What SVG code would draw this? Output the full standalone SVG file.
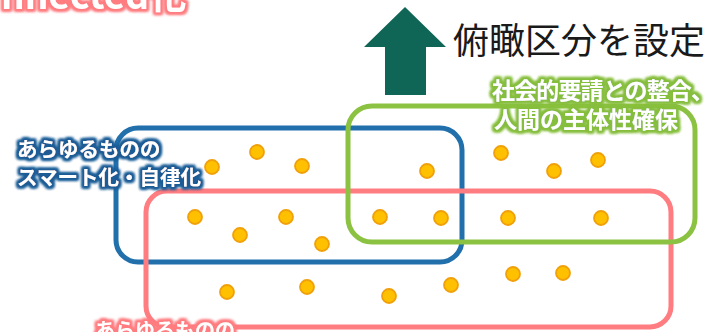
<svg xmlns="http://www.w3.org/2000/svg" width="717" height="332" viewBox="0 0 717 332">
  <style>
    .frame { fill: none; stroke-width: 5; }
    .dot { fill: #FFC000; stroke: #F0A00A; stroke-width: 1.8; }
    .lbl { font-family: "Noto Sans CJK JP", "Liberation Sans", sans-serif; font-weight: 700; fill: #FFFFFF; }
    .title { font-family: "Noto Sans CJK JP", sans-serif; font-weight: 400; fill: #1A1A1A; }
  </style>
  <defs>
    <filter id="glowPink" x="-10%" y="-40%" width="120%" height="180%">
      <feMorphology in="SourceAlpha" operator="dilate" radius="2.3" result="d"/>
      <feGaussianBlur in="d" stdDeviation="1.8" result="b"/>
      <feFlood flood-color="#FF7C80"/>
      <feComposite in2="b" operator="in" result="g"/>
      <feMerge><feMergeNode in="g"/><feMergeNode in="g"/><feMergeNode in="g"/><feMergeNode in="SourceGraphic"/></feMerge>
    </filter>
    <filter id="glowBlue" x="-10%" y="-40%" width="120%" height="180%">
      <feMorphology in="SourceAlpha" operator="dilate" radius="2" result="d"/>
      <feGaussianBlur in="d" stdDeviation="1.6" result="b"/>
      <feFlood flood-color="#1F5C96"/>
      <feComposite in2="b" operator="in" result="g"/>
      <feMerge><feMergeNode in="g"/><feMergeNode in="g"/><feMergeNode in="g"/><feMergeNode in="SourceGraphic"/></feMerge>
    </filter>
    <filter id="glowGreen" x="-10%" y="-40%" width="120%" height="180%">
      <feMorphology in="SourceAlpha" operator="dilate" radius="2" result="d"/>
      <feGaussianBlur in="d" stdDeviation="1.6" result="b"/>
      <feFlood flood-color="#86BE3E"/>
      <feComposite in2="b" operator="in" result="g"/>
      <feMerge><feMergeNode in="g"/><feMergeNode in="g"/><feMergeNode in="g"/><feMergeNode in="SourceGraphic"/></feMerge>
    </filter>
  </defs>

  <rect width="717" height="332" fill="#FFFFFF"/>

  <g id="header-connected">
    <text class="lbl" x="1" y="9" font-size="37" font-family="Liberation Sans, Noto Sans CJK JP, sans-serif" filter="url(#glowPink)">nnected化</text>
  </g>

  <g id="overview-arrow">
    <polygon points="405,7 446,47 426,47 426,95 385,95 385,47 364,47" fill="#0F6656"/>
    <text class="title" x="453" y="54" font-size="36">俯瞰区分を設定</text>
  </g>

  <g id="blue-group">
    <rect class="frame" x="116" y="128" width="346" height="134" rx="22" stroke="#2170AC"/>
  </g>
  <g id="pink-group">
    <rect class="frame" x="146" y="191" width="525" height="136" rx="21" stroke="#FF7C80"/>
  </g>
  <g id="green-group">
    <rect class="frame" x="348" y="106" width="347" height="136" rx="24" stroke="#8BC241"/>
  </g>

  <g id="dots">
    <circle class="dot" cx="257" cy="152" r="7"/>
    <circle class="dot" cx="212" cy="167" r="7"/>
    <circle class="dot" cx="302" cy="166" r="7"/>
    <circle class="dot" cx="427" cy="171" r="7"/>
    <circle class="dot" cx="501" cy="153" r="7"/>
    <circle class="dot" cx="554" cy="171" r="7"/>
    <circle class="dot" cx="598" cy="160" r="7"/>
    <circle class="dot" cx="195" cy="217" r="7"/>
    <circle class="dot" cx="240" cy="235" r="7"/>
    <circle class="dot" cx="286" cy="217" r="7"/>
    <circle class="dot" cx="322" cy="244" r="7"/>
    <circle class="dot" cx="380" cy="217" r="7"/>
    <circle class="dot" cx="441" cy="218" r="7"/>
    <circle class="dot" cx="508" cy="218" r="7"/>
    <circle class="dot" cx="601" cy="218" r="7"/>
    <circle class="dot" cx="227" cy="292" r="7"/>
    <circle class="dot" cx="307" cy="287" r="7"/>
    <circle class="dot" cx="389" cy="296" r="7"/>
    <circle class="dot" cx="451" cy="285" r="7"/>
    <circle class="dot" cx="513" cy="274" r="7"/>
    <circle class="dot" cx="563" cy="273" r="7"/>
  </g>

  <g id="label-blue">
    <text class="lbl" font-size="20.5" filter="url(#glowBlue)"><tspan x="17" y="157">あらゆるものの</tspan><tspan x="17" y="185">スマート化・自律化</tspan></text>
  </g>
  <g id="label-green">
    <text class="lbl" font-size="23" filter="url(#glowGreen)"><tspan x="492" y="99" textLength="222" lengthAdjust="spacing">社会的要請との整合、</tspan><tspan x="494" y="128">人間の主体性確保</tspan></text>
  </g>
  <g id="label-pink">
    <text class="lbl" x="95" y="338" font-size="20" filter="url(#glowPink)">あらゆるものの</text>
  </g>
</svg>
